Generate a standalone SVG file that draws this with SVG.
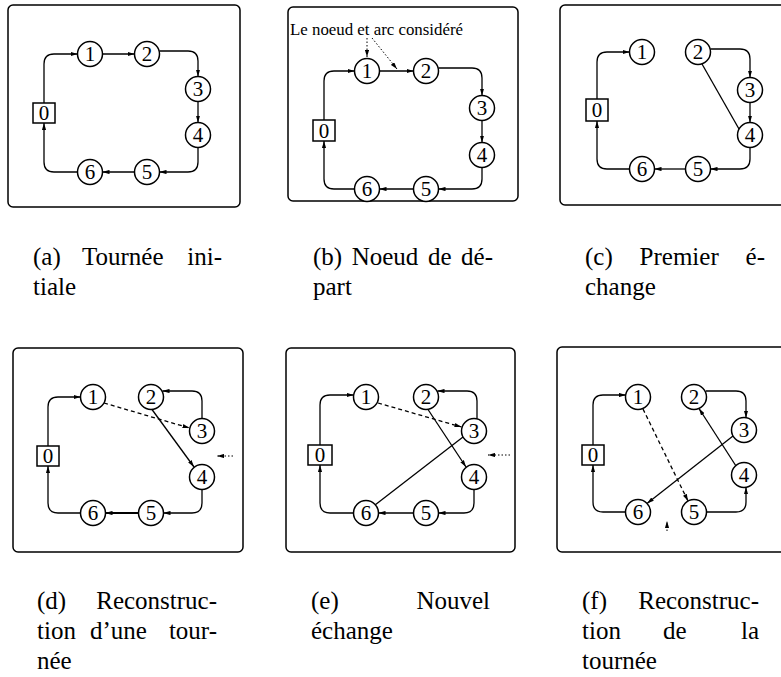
<svg xmlns="http://www.w3.org/2000/svg" width="781" height="677" viewBox="0 0 781 677">
<defs>
<marker id="ah" viewBox="0 0 10 6" refX="10" refY="3" markerWidth="7" markerHeight="4.2" markerUnits="userSpaceOnUse" orient="auto"><path d="M0,0 L10,3 L0,6 z" fill="#000"/></marker>
</defs>
<style>
.frame{fill:none;stroke:#000;stroke-width:1.5}
.nd circle,.nd rect{fill:#fff;stroke:#000;stroke-width:1.5}
.nd text{font-family:"Liberation Serif","Times New Roman",serif;font-size:21px;text-anchor:middle;fill:#000}
.cn path{fill:none;stroke:#000;stroke-width:1.3}
.cn .a{marker-end:url(#ah)}
.cn .dash{stroke-dasharray:4 3}
.cn .dot{stroke-dasharray:1.5 2;stroke-width:1}
.cap{font-family:"Liberation Serif","Times New Roman",serif;font-size:25px;fill:#000}
.note{font-family:"Liberation Serif","Times New Roman",serif;font-size:16px;fill:#000}
</style>
<rect width="781" height="677" fill="#fff"/>

<!-- Panel (a) -->
<g id="panel-a">
<rect class="frame" x="8" y="5" width="232" height="202" rx="5"/>
<g class="cn" id="a-connectors">
<path class="a" d="M44,103 V64 Q44,54 54,54 H77.5"/>
<path class="a" d="M102.5,54 H134.5"/>
<path class="a" d="M159.5,51 H188 Q198,51 198,61 V76.5"/>
<path class="a" d="M198,101.5 V122.5"/>
<path class="a" d="M198,147.5 V162 Q198,172 188,172 H159.5"/>
<path class="a" d="M134.5,172 H102.5"/>
<path class="a" d="M77.5,172 H54 Q44,172 44,162 V123"/>
</g>
<g class="nd" id="a-n0"><rect x="33" y="103" width="22" height="20"/><text x="44" y="120">0</text></g>
<g class="nd" id="a-n1"><circle cx="90" cy="54" r="12.5"/><text x="90" y="61">1</text></g>
<g class="nd" id="a-n2"><circle cx="147" cy="54" r="12.5"/><text x="147" y="61">2</text></g>
<g class="nd" id="a-n3"><circle cx="198" cy="89" r="12.5"/><text x="198" y="96">3</text></g>
<g class="nd" id="a-n4"><circle cx="198" cy="135" r="12.5"/><text x="198" y="142">4</text></g>
<g class="nd" id="a-n5"><circle cx="147" cy="172" r="12.5"/><text x="147" y="179">5</text></g>
<g class="nd" id="a-n6"><circle cx="90" cy="172" r="12.5"/><text x="90" y="179">6</text></g>
</g>

<!-- Panel (b) -->
<g id="panel-b">
<rect class="frame" x="288" y="7" width="230" height="194" rx="5"/>
<text class="note" x="290" y="35" textLength="173" lengthAdjust="spacingAndGlyphs">Le noeud et arc considéré</text>
<g class="cn" id="b-connectors">
<path class="a dot" d="M367,38 V57"/>
<path class="a dot" d="M372,38 L397,69"/>
<path class="a" d="M324,120 V81 Q324,71 334,71 H354.5"/>
<path class="a" d="M379.5,71 H413.5"/>
<path class="a" d="M438.5,68 H472 Q482,68 482,78 V95.5"/>
<path class="a" d="M482,120.5 V142.5"/>
<path class="a" d="M482,167.5 V179 Q482,189 472,189 H438.5"/>
<path class="a" d="M413.5,189 H379.5"/>
<path class="a" d="M354.5,189 H334 Q324,189 324,179 V141"/>
</g>
<g class="nd" id="b-n0"><rect x="313" y="120" width="22" height="21"/><text x="324" y="138">0</text></g>
<g class="nd" id="b-n1"><circle cx="367" cy="71" r="12.5"/><text x="367" y="78">1</text></g>
<g class="nd" id="b-n2"><circle cx="426" cy="71" r="12.5"/><text x="426" y="78">2</text></g>
<g class="nd" id="b-n3"><circle cx="482" cy="108" r="12.5"/><text x="482" y="115">3</text></g>
<g class="nd" id="b-n4"><circle cx="482" cy="155" r="12.5"/><text x="482" y="162">4</text></g>
<g class="nd" id="b-n5"><circle cx="426" cy="189" r="12.5"/><text x="426" y="196">5</text></g>
<g class="nd" id="b-n6"><circle cx="367" cy="189" r="12.5"/><text x="367" y="196">6</text></g>
</g>

<!-- Panel (c) -->
<g id="panel-c">
<rect class="frame" x="560" y="5" width="232" height="200" rx="5"/>
<g class="cn" id="c-connectors">
<path class="a" d="M597,99 V62 Q597,52 607,52 H629.5"/>
<path class="a" d="M710.5,49 H740 Q750,49 750,59 V77.5"/>
<path class="a" d="M750,102.5 V122.5"/>
<path d="M702,64 L739,129"/>
<path class="a" d="M750,147.5 V159 Q750,169 740,169 H710.5"/>
<path class="a" d="M685.5,169 H654.5"/>
<path class="a" d="M629.5,169 H607 Q597,169 597,159 V121"/>
</g>
<g class="nd" id="c-n0"><rect x="586" y="99" width="22" height="22"/><text x="597" y="117">0</text></g>
<g class="nd" id="c-n1"><circle cx="642" cy="52" r="12.5"/><text x="642" y="59">1</text></g>
<g class="nd" id="c-n2"><circle cx="698" cy="52" r="12.5"/><text x="698" y="59">2</text></g>
<g class="nd" id="c-n3"><circle cx="750" cy="90" r="12.5"/><text x="750" y="97">3</text></g>
<g class="nd" id="c-n4"><circle cx="750" cy="135" r="12.5"/><text x="750" y="142">4</text></g>
<g class="nd" id="c-n5"><circle cx="698" cy="169" r="12.5"/><text x="698" y="176">5</text></g>
<g class="nd" id="c-n6"><circle cx="642" cy="169" r="12.5"/><text x="642" y="176">6</text></g>
</g>

<!-- Panel (d) -->
<g id="panel-d">
<rect class="frame" x="13" y="348" width="230" height="204" rx="5"/>
<g class="cn" id="d-connectors">
<path class="a" d="M48,446 V407 Q48,397 58,397 H80.5"/>
<path class="a dash" d="M104,403 L189.5,428"/>
<path class="a" d="M202,418.5 V401 Q202,391 192,391 H162.5"/>
<path class="a" d="M152,409.5 L194,467"/>
<path class="a" d="M202,489.5 V503 Q202,513 192,513 H163.5"/>
<path class="a" style="stroke-width:2" d="M138.5,513 H105.5"/>
<path class="a" d="M80.5,513 H58 Q48,513 48,503 V466"/>
<path class="a dot" d="M233,456 H217"/>
</g>
<g class="nd" id="d-n0"><rect x="37" y="446" width="22" height="20"/><text x="48" y="463">0</text></g>
<g class="nd" id="d-n1"><circle cx="93" cy="397" r="12.5"/><text x="93" y="404">1</text></g>
<g class="nd" id="d-n2"><circle cx="151" cy="397" r="12.5"/><text x="151" y="404">2</text></g>
<g class="nd" id="d-n3"><circle cx="202" cy="431" r="12.5"/><text x="202" y="438">3</text></g>
<g class="nd" id="d-n4"><circle cx="202" cy="477" r="12.5"/><text x="202" y="484">4</text></g>
<g class="nd" id="d-n5"><circle cx="151" cy="513" r="12.5"/><text x="151" y="520">5</text></g>
<g class="nd" id="d-n6"><circle cx="93" cy="513" r="12.5"/><text x="93" y="520">6</text></g>
</g>

<!-- Panel (e) -->
<g id="panel-e">
<rect class="frame" x="286" y="348" width="229" height="204" rx="5"/>
<g class="cn" id="e-connectors">
<path class="a" d="M320,445 V405 Q320,395 330,395 H353.7"/>
<path class="a dash" d="M378,403 L461.5,427"/>
<path class="a" d="M477,418.8 V401 Q477,391 467,391 H437.5"/>
<path class="a" d="M428,409.5 L466,467"/>
<path d="M463,437 L375,505"/>
<path class="a" d="M474,489.5 V503 Q474,513 464,513 H438.5"/>
<path class="a" d="M413.5,513 H378.5"/>
<path class="a" d="M353.5,513 H330 Q320,513 320,503 V465"/>
<path class="a dot" d="M510,455 H488"/>
</g>
<g class="nd" id="e-n0"><rect x="308" y="445" width="24" height="20"/><text x="320" y="462">0</text></g>
<g class="nd" id="e-n1"><circle cx="366" cy="397" r="12.5"/><text x="366" y="404">1</text></g>
<g class="nd" id="e-n2"><circle cx="426" cy="397" r="12.5"/><text x="426" y="404">2</text></g>
<g class="nd" id="e-n3"><circle cx="474" cy="431" r="12.5"/><text x="474" y="438">3</text></g>
<g class="nd" id="e-n4"><circle cx="474" cy="477" r="12.5"/><text x="474" y="484">4</text></g>
<g class="nd" id="e-n5"><circle cx="426" cy="513" r="12.5"/><text x="426" y="520">5</text></g>
<g class="nd" id="e-n6"><circle cx="366" cy="513" r="12.5"/><text x="366" y="520">6</text></g>
</g>

<!-- Panel (f) -->
<g id="panel-f">
<rect class="frame" x="557" y="347" width="232" height="205" rx="5"/>
<g class="cn" id="f-connectors">
<path class="a" d="M593,445 V405 Q593,395 603,395 H626"/>
<path class="a dash" d="M643,409 L688,501"/>
<path class="a" d="M706,391 H736 Q746,391 746,401 V417.7"/>
<path class="a" d="M733,436 L647,503.5"/>
<path class="a" d="M736,466 L699,408.5"/>
<path class="a" d="M706,512 H736 Q746,512 746,502 V487.3"/>
<path class="a" d="M626,512 H603 Q593,512 593,502 V465"/>
<path class="a dot" d="M667,531 V521"/>
</g>
<g class="nd" id="f-n0"><rect x="582" y="445" width="22" height="20"/><text x="593" y="462">0</text></g>
<g class="nd" id="f-n1"><circle cx="638" cy="397" r="12.5"/><text x="638" y="404">1</text></g>
<g class="nd" id="f-n2"><circle cx="694" cy="397" r="12.5"/><text x="694" y="404">2</text></g>
<g class="nd" id="f-n3"><circle cx="744" cy="430" r="12.5"/><text x="744" y="437">3</text></g>
<g class="nd" id="f-n4"><circle cx="744" cy="475" r="12.5"/><text x="744" y="482">4</text></g>
<g class="nd" id="f-n5"><circle cx="694" cy="512" r="12.5"/><text x="694" y="519">5</text></g>
<g class="nd" id="f-n6"><circle cx="638" cy="512" r="12.5"/><text x="638" y="519">6</text></g>
</g>

<!-- Captions -->
<g id="captions">
<text class="cap" x="33" y="265">(a)</text>
<text class="cap" x="82" y="265">Tournée</text>
<text class="cap" x="222" y="265" text-anchor="end">ini-</text>
<text class="cap" x="33" y="295">tiale</text>

<text class="cap" x="313" y="265">(b)</text>
<text class="cap" x="351.7" y="265">Noeud</text>
<text class="cap" x="427.9" y="265">de</text>
<text class="cap" x="493" y="265" text-anchor="end">dé-</text>
<text class="cap" x="313" y="295">part</text>

<text class="cap" x="585" y="265">(c)</text>
<text class="cap" x="639.6" y="265">Premier</text>
<text class="cap" x="765" y="265" text-anchor="end">é-</text>
<text class="cap" x="585" y="295">change</text>

<text class="cap" x="37" y="609">(d)</text>
<text class="cap" x="217" y="609" text-anchor="end">Reconstruc-</text>
<text class="cap" x="37" y="639">tion</text>
<text class="cap" x="90" y="639">d’une</text>
<text class="cap" x="217" y="639" text-anchor="end">tour-</text>
<text class="cap" x="37" y="669">née</text>

<text class="cap" x="311" y="609">(e)</text>
<text class="cap" x="490" y="609" text-anchor="end">Nouvel</text>
<text class="cap" x="311" y="639">échange</text>

<text class="cap" x="582" y="609">(f)</text>
<text class="cap" x="759" y="609" text-anchor="end">Reconstruc-</text>
<text class="cap" x="582" y="639">tion</text>
<text class="cap" x="663" y="639">de</text>
<text class="cap" x="759" y="639" text-anchor="end">la</text>
<text class="cap" x="582" y="669">tournée</text>
</g>
</svg>
